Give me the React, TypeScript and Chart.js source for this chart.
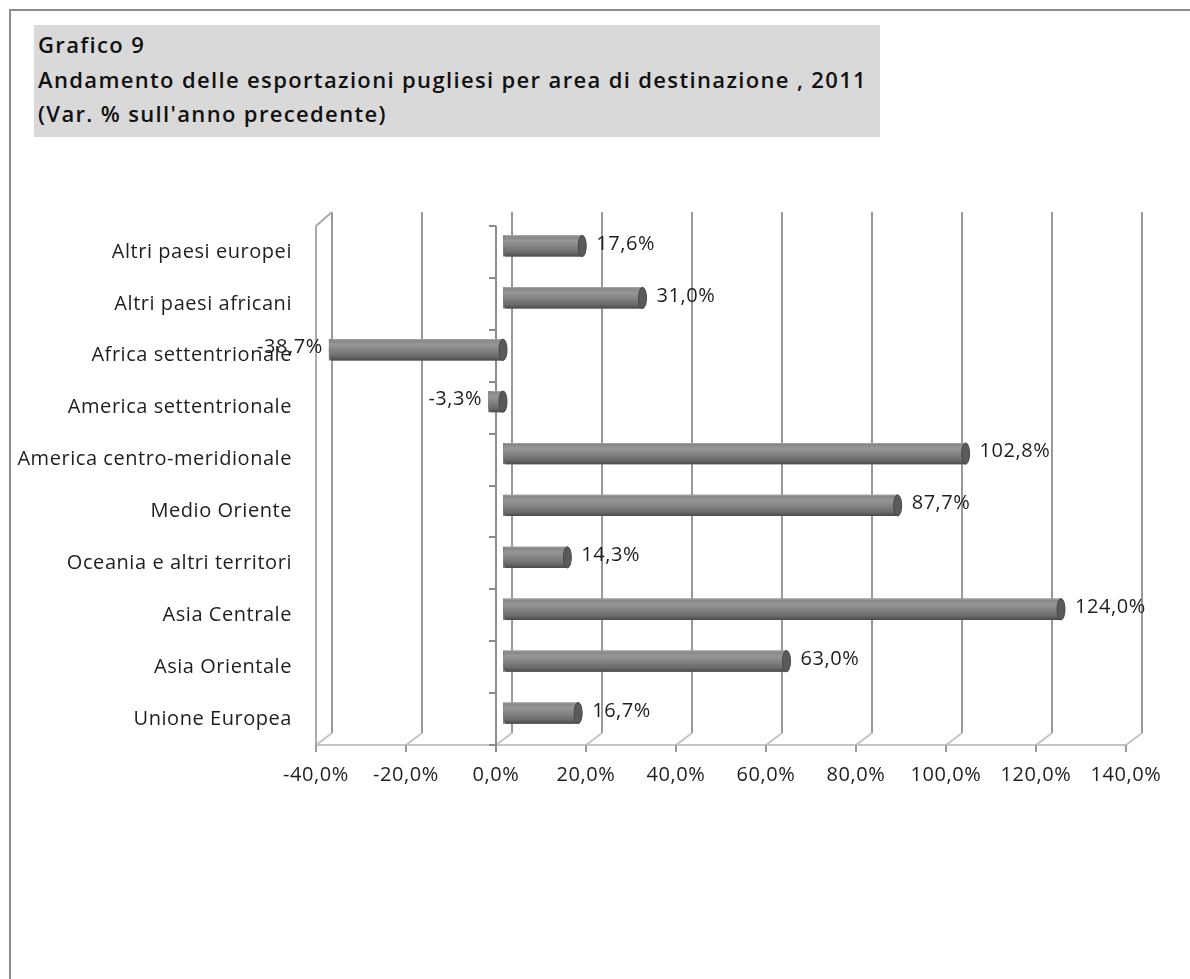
import React, { useEffect, useRef } from "react";
import { Chart, registerables } from "chart.js";

Chart.register(...registerables);

const titleLines = [
  "Grafico 9",
  "Andamento delle esportazioni pugliesi per area di destinazione , 2011",
  "(Var. % sull'anno precedente)",
];

const categories = [
  "Altri paesi europei",
  "Altri paesi africani",
  "Africa settentrionale",
  "America settentrionale",
  "America centro-meridionale",
  "Medio Oriente",
  "Oceania e altri territori",
  "Asia Centrale",
  "Asia Orientale",
  "Unione Europea",
];

const values = [17.6, 31.0, -38.7, -3.3, 102.8, 87.7, 14.3, 124.0, 63.0, 16.7];

const axisMin = -40;
const axisMax = 140;
const axisStep = 20;

const FONT = "'Open Sans', 'DejaVu Sans', sans-serif";
const DEPTH_X = 16;
const DEPTH_Y = 12;
const BAR_DX = 7;
const BAR_DY = -6;

const fmt = (v: number) => v.toFixed(1).replace(".", ",") + "%";

const excel3d = {
  id: "excel3d",
  beforeDraw(chart: any) {
    try {
      (chart.ctx as any).letterSpacing = "0.55px";
    } catch (e) {}
  },
  beforeDatasetsDraw(chart: any) {
    const ctx = chart.ctx;
    const xs = chart.scales.x;
    const { top, bottom } = chart.chartArea;
    const backTop = top - DEPTH_Y - 2;
    const backBottom = bottom - DEPTH_Y;
    ctx.save();
    const ticks: number[] = [];
    for (let v = axisMin; v <= axisMax + 1e-9; v += axisStep) ticks.push(v);
    ctx.lineWidth = 2;
    ticks.forEach((v) => {
      const xf = xs.getPixelForValue(v);
      const xb = xf + DEPTH_X;
      ctx.strokeStyle = "#999999";
      ctx.beginPath();
      ctx.moveTo(xb, backTop);
      ctx.lineTo(xb, backBottom);
      ctx.stroke();
      ctx.strokeStyle = "#c4c4c4";
      ctx.beginPath();
      ctx.moveTo(xb, backBottom);
      ctx.lineTo(xf, bottom);
      ctx.stroke();
    });
    const xl = xs.getPixelForValue(axisMin);
    ctx.strokeStyle = "#ababab";
    ctx.beginPath();
    ctx.moveTo(xl + DEPTH_X, backTop);
    ctx.lineTo(xl, top);
    ctx.lineTo(xl, bottom);
    ctx.stroke();
    ctx.strokeStyle = "#c4c4c4";
    ctx.beginPath();
    ctx.moveTo(xl, bottom);
    ctx.lineTo(xs.getPixelForValue(axisMax), bottom);
    ctx.stroke();
    ctx.strokeStyle = "#9a9a9a";
    ticks.forEach((v) => {
      const xf = Math.round(xs.getPixelForValue(v));
      ctx.beginPath();
      ctx.moveTo(xf, bottom);
      ctx.lineTo(xf, bottom + 7);
      ctx.stroke();
    });
    const x0 = Math.round(xs.getPixelForValue(0));
    ctx.strokeStyle = "#8c8c8c";
    ctx.beginPath();
    ctx.moveTo(x0, top);
    ctx.lineTo(x0, bottom + 7);
    ctx.stroke();
    const n = categories.length;
    const band = (bottom - top) / n;
    for (let i = 0; i <= n; i++) {
      const y = Math.round(top + band * i);
      ctx.beginPath();
      ctx.moveTo(x0 - 7, y);
      ctx.lineTo(x0, y);
      ctx.stroke();
    }
    ctx.restore();
    ctx.save();
    ctx.translate(BAR_DX, BAR_DY);
  },
  afterDatasetsDraw(chart: any) {
    const ctx = chart.ctx;
    const meta = chart.getDatasetMeta(0);
    meta.data.forEach((el: any) => {
      const h = el.height;
      const left = Math.min(el.x, el.base);
      const right = Math.max(el.x, el.base);
      const t = el.y - h / 2;
      const g = ctx.createLinearGradient(0, t, 0, t + h);
      g.addColorStop(0, "#a8a8a8");
      g.addColorStop(0.08, "#868686");
      g.addColorStop(0.25, "#979797");
      g.addColorStop(0.5, "#858585");
      g.addColorStop(0.8, "#6c6c6c");
      g.addColorStop(1, "#4a4a4a");
      ctx.fillStyle = g;
      ctx.beginPath();
      ctx.moveTo(left + 3, t);
      ctx.lineTo(right, t);
      ctx.lineTo(right, t + h);
      ctx.lineTo(left + 3, t + h);
      ctx.ellipse(left + 3, el.y, 3, h / 2, 0, Math.PI / 2, (Math.PI * 3) / 2);
      ctx.closePath();
      ctx.fill();
      ctx.fillStyle = "#5a5a5a";
      ctx.strokeStyle = "#474747";
      ctx.lineWidth = 1;
      ctx.beginPath();
      ctx.ellipse(right, el.y, 4, h / 2, 0, 0, Math.PI * 2);
      ctx.fill();
      ctx.stroke();
    });
    ctx.restore();
  },
  afterDraw(chart: any) {
    const ctx = chart.ctx;
    const meta = chart.getDatasetMeta(0);
    ctx.save();
    ctx.font = `20px ${FONT}`;
    ctx.fillStyle = "#1e1e1e";
    ctx.textBaseline = "middle";
    meta.data.forEach((el: any, i: number) => {
      const v = values[i];
      const y = el.y + BAR_DY - 2;
      if (v >= 0) {
        ctx.textAlign = "left";
        ctx.fillText(fmt(v), el.x + BAR_DX + 14, y);
      } else {
        ctx.textAlign = "right";
        ctx.fillText(fmt(v), el.x + BAR_DX - 6, y);
      }
    });
    ctx.restore();
  },
};

export default function App() {
  const canvasRef = useRef<HTMLCanvasElement | null>(null);

  useEffect(() => {
    if (!canvasRef.current) return;
    const chart = new Chart(canvasRef.current, {
      type: "bar",
      data: {
        labels: categories,
        datasets: [
          {
            data: values,
            backgroundColor: "#808080",
            borderWidth: 0,
            categoryPercentage: 1,
            barPercentage: 0.41,
          },
        ],
      },
      options: {
        indexAxis: "y",
        responsive: false,
        animation: false,
        events: [],
        layout: { padding: { left: 0, right: 64, top: 226, bottom: 0 } },
        plugins: {
          legend: { display: false },
          title: { display: false },
          tooltip: { enabled: false },
        },
        scales: {
          x: {
            type: "linear",
            min: axisMin,
            max: axisMax,
            afterFit: (s: any) => {
              s.height = 979 - 745;
            },
            ticks: {
              stepSize: axisStep,
              autoSkip: false,
              maxRotation: 0,
              padding: 18,
              color: "#1e1e1e",
              font: { family: FONT, size: 20 },
              callback: (v: any) => fmt(Number(v)),
            },
            grid: { display: false, drawTicks: false },
            border: { display: false },
          },
          y: {
            type: "category",
            afterFit: (s: any) => {
              s.width = 316;
            },
            ticks: {
              padding: 24,
              color: "#1e1e1e",
              font: { family: FONT, size: 20 },
            },
            grid: { display: false, drawTicks: false },
            border: { display: false },
          },
        },
      },
      plugins: [excel3d],
    });
    return () => chart.destroy();
  }, []);

  return (
    <div
      style={{
        position: "absolute",
        left: 0,
        top: 0,
        width: 1190,
        height: 979,
        overflow: "hidden",
        background: "#fff",
      }}
    >
      <div
        style={{
          position: "absolute",
          left: 9,
          top: 9,
          width: 1400,
          height: 1200,
          border: "2px solid #8c8c8c",
        }}
      />
      <div
        style={{
          position: "absolute",
          left: 34,
          top: 25,
          width: 846,
          height: 112,
          background: "#d9d9d9",
        }}
      />
      {titleLines.map((line, i) => (
        <div
          key={i}
          style={{
            position: "absolute",
            left: 38,
            top: 28 + i * 34.5,
            fontFamily: FONT,
            fontWeight: 600,
            fontSize: 22,
            letterSpacing: "1.35px",
            lineHeight: "32px",
            color: "#111",
            whiteSpace: "nowrap",
          }}
        >
          {line}
        </div>
      ))}
      <canvas
        ref={canvasRef}
        width={1190}
        height={979}
        style={{ position: "absolute", left: 0, top: 0, width: 1190, height: 979 }}
      />
    </div>
  );
}
